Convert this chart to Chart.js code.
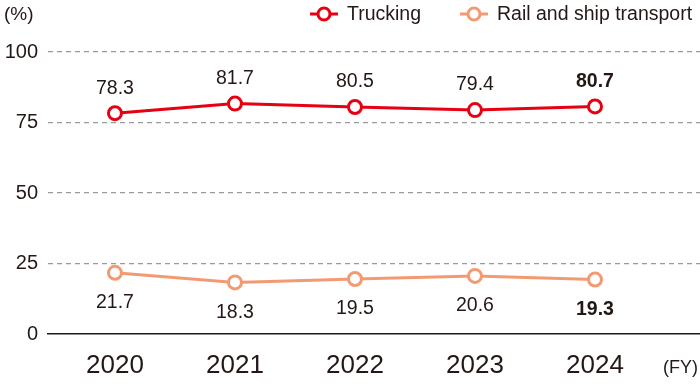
<!DOCTYPE html>
<html><head><meta charset="utf-8">
<script src="https://cdn.jsdelivr.net/npm/chart.js@4/dist/chart.umd.min.js"></script>
<style>html,body{margin:0;padding:0;background:#fff}#wrap{width:700px;height:388px}</style>
</head><body><div id="wrap"><canvas id="c" width="700" height="388"></canvas></div>
<script>
const years = ['2020','2021','2022','2023','2024'];
const trucking = [78.3, 81.7, 80.5, 79.4, 80.7];
const railShip = [21.7, 18.3, 19.5, 20.6, 19.3];
const yTicks = [0, 25, 50, 75, 100];
const seriesNames = ['Trucking', 'Rail and ship transport'];

const RED = '#e60012', ORANGE = '#f39a72', TXT = '#231815';
const FONT = '"Liberation Sans", Arial, sans-serif';

const toPts = arr => arr.map((v, i) => ({x: i, y: v}));

const overlay = {
  id: 'overlay',
  afterDatasetsDraw(chart) {
    const ctx = chart.ctx;
    ctx.save();
    chart.data.datasets.forEach((ds, di) => {
      const meta = chart.getDatasetMeta(di);
      meta.data.forEach((pt, i) => {
        const last = i === ds.data.length - 1;
        ctx.font = (last ? 'bold ' : '') + '19.5px ' + FONT;
        ctx.fillStyle = TXT;
        ctx.textAlign = 'center';
        ctx.textBaseline = 'middle';
        const dy = di === 0 ? -25 : 30;
        ctx.fillText(ds.data[i].y.toFixed(1), pt.x, pt.y + dy);
      });
    });
    ctx.font = '19px ' + FONT;
    ctx.fillStyle = TXT;
    ctx.textAlign = 'left';
    ctx.textBaseline = 'middle';
    ctx.fillText('(%)', 4, 15);
    ctx.font = '18px ' + FONT;
    ctx.fillText('(FY)', 663, 368);
    const items = [
      {x0: 310, color: RED, label: seriesNames[0]},
      {x0: 460, color: ORANGE, label: seriesNames[1]}
    ];
    items.forEach(it => {
      const y = 14;
      ctx.strokeStyle = it.color;
      ctx.lineWidth = 3;
      ctx.beginPath(); ctx.moveTo(it.x0, y); ctx.lineTo(it.x0 + 28, y); ctx.stroke();
      ctx.beginPath(); ctx.arc(it.x0 + 14, y, 6, 0, Math.PI * 2);
      ctx.fillStyle = '#fff'; ctx.fill(); ctx.stroke();
      ctx.fillStyle = TXT;
      ctx.font = '19.5px ' + FONT;
      ctx.textAlign = 'left';
      ctx.fillText(it.label, it.x0 + 37, y + 1);
    });
    ctx.restore();
  }
};

new Chart(document.getElementById('c'), {
  type: 'line',
  data: {
    datasets: [
      {label: seriesNames[0], data: toPts(trucking), borderColor: RED, backgroundColor: '#fff',
       borderWidth: 3, pointRadius: 6.5, pointBorderWidth: 3, pointBackgroundColor: '#fff', pointBorderColor: RED, tension: 0},
      {label: seriesNames[1], data: toPts(railShip), borderColor: ORANGE, backgroundColor: '#fff',
       borderWidth: 3, pointRadius: 6.5, pointBorderWidth: 3, pointBackgroundColor: '#fff', pointBorderColor: ORANGE, tension: 0}
    ]
  },
  options: {
    responsive: false,
    animation: false,
    events: [],
    layout: {autoPadding: false, padding: {top: 52, right: 0, left: 0, bottom: 0}},
    plugins: {legend: {display: false}, tooltip: {enabled: false}},
    scales: {
      x: {
        type: 'linear', min: -0.558, max: 4.875,
        afterBuildTicks: s => { s.ticks = years.map((_, i) => ({value: i})); },
        afterFit: s => { s.height = 54; s.paddingLeft = 0; s.paddingRight = 0; },
        ticks: {callback: (v) => years[v] ?? '', font: {size: 26, family: FONT}, color: TXT, padding: 8, maxRotation: 0, autoSkip: false},
        grid: {display: false},
        border: {display: true, color: TXT, width: 1.5}
      },
      y: {
        min: 0, max: 100,
        afterBuildTicks: s => { s.ticks = yTicks.map(v => ({value: v})); },
        afterFit: s => { s.width = 48; s.paddingTop = 0; s.paddingBottom = 0; },
        ticks: {font: {size: 20, family: FONT}, color: TXT, padding: 10},
        grid: {color: c => c.tick && c.tick.value === 0 ? 'rgba(0,0,0,0)' : '#9a9a9a', lineWidth: 1.2, drawTicks: false},
        border: {display: false, dash: [5, 4]}
      }
    }
  },
  plugins: [overlay]
});
</script></body></html>
